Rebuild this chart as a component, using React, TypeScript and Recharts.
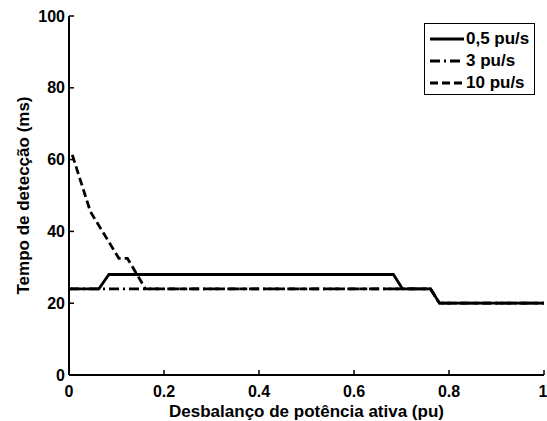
import React from 'react';
import { LineChart, Line, XAxis, YAxis, Legend, Label } from 'recharts';

const xTicks = [0, 0.2, 0.4, 0.6, 0.8, 1];
const yTicks = [0, 20, 40, 60, 80, 100];

const seriesNames = ['0,5 pu/s', '3 pu/s', '10 pu/s'];
const seriesDash = ['', '10 4 2 4', '8 4'];

const x05 = [0, 0.063, 0.084, 0.683, 0.702, 0.761, 0.78, 1];
const y05 = [24, 24, 28, 28, 24, 24, 20, 20];
const x3 = [0, 0.761, 0.78, 1];
const y3 = [24, 24, 20, 20];
const x10 = [0.007, 0.045, 0.105, 0.123, 0.161, 0.761, 0.78, 1];
const y10 = [61.3, 45.5, 32.5, 32.5, 24, 24, 20, 20];

const toPoints = (xs: number[], ys: number[]) => xs.map((x, i) => ({ x, y: ys[i] }));
const data05 = toPoints(x05, y05);
const data3 = toPoints(x3, y3);
const data10 = toPoints(x10, y10);

const FONT = '"Liberation Sans", Arial, Helvetica, sans-serif';
const tickStyle = { fill: '#000', fontSize: 16, fontWeight: 'bold', fontFamily: FONT } as any;

const fmtX = (v: number) => (v === 0 ? '0' : v === 1 ? '1' : String(v));

const LegendBox = () => (
  <div
    style={{
      boxSizing: 'border-box',
      border: '1px solid #000',
      background: '#fff',
      padding: '4px 0 0 5px',
      fontFamily: FONT,
      fontWeight: 'bold',
      fontSize: 17,
      color: '#000',
      lineHeight: '22px',
      width: 111,
      height: 72,
    }}
  >
    {seriesNames.map((name, i) => (
      <div key={name} style={{ display: 'flex', alignItems: 'center', height: 22 }}>
        <svg width={34} height={10} style={{ marginRight: 2, flex: 'none' }}>
          <line x1={0} y1={5} x2={34} y2={5} stroke="#000" strokeWidth={2.8} strokeDasharray={seriesDash[i] || undefined} />
        </svg>
        <span style={{ whiteSpace: 'nowrap' }}>{name}</span>
      </div>
    ))}
  </div>
);

const YLabel = (props: any) => {
  const vb = props.viewBox || {};
  const cx = vb.x + 23.5;
  const cy = vb.y + vb.height / 2;
  return (
    <text
      x={cx}
      y={cy}
      transform={`rotate(-90, ${cx}, ${cy})`}
      textAnchor="middle"
      dominantBaseline="central"
      fontFamily={FONT}
      fontWeight="bold"
      fontSize={17}
      fill="#000"
    >
      Tempo de detecção (ms)
    </text>
  );
};

export default function App() {
  return (
    <div style={{ position: 'absolute', left: 0, top: 0, width: 547, height: 421, background: '#fff' }}>
      <LineChart width={547} height={421} margin={{ top: 16, right: 3, bottom: 0, left: 0 }}>
        <XAxis
          dataKey="x"
          type="number"
          domain={[0, 1]}
          ticks={xTicks}
          tickFormatter={fmtX}
          allowDataOverflow
          height={46}
          tickSize={-5}
          tickMargin={16}
          tick={tickStyle}
          axisLine={{ stroke: '#000', strokeWidth: 2 }}
          tickLine={{ stroke: '#000', strokeWidth: 1.5 }}
        >
          <Label
            value="Desbalanço de potência ativa (pu)"
            position="insideBottom"
            offset={4}
            style={{ fontFamily: FONT, fontWeight: 'bold', fontSize: 17, fill: '#000' }}
          />
        </XAxis>
        <XAxis
          xAxisId="top"
          orientation="top"
          dataKey="x"
          type="number"
          domain={[0, 1]}
          ticks={xTicks}
          allowDataOverflow
          height={0}
          tickSize={-5}
          tick={false}
          axisLine={{ stroke: '#000', strokeWidth: 2 }}
          tickLine={{ stroke: '#000', strokeWidth: 1.5 }}
        />
        <YAxis
          type="number"
          domain={[0, 100]}
          ticks={yTicks}
          allowDataOverflow
          width={69}
          tickSize={-5}
          tickMargin={9}
          tick={tickStyle}
          axisLine={{ stroke: '#000', strokeWidth: 2 }}
          tickLine={{ stroke: '#000', strokeWidth: 1.5 }}
          label={<YLabel />}
        />
        <YAxis
          yAxisId="right"
          orientation="right"
          type="number"
          domain={[0, 100]}
          ticks={yTicks}
          allowDataOverflow
          width={0}
          tickSize={-5}
          tick={false}
          axisLine={{ stroke: '#000', strokeWidth: 2 }}
          tickLine={{ stroke: '#000', strokeWidth: 1.5 }}
        />
        <Line data={data3} dataKey="y" name={seriesNames[1]} stroke="#000" strokeWidth={2.8} strokeDasharray={seriesDash[1]} dot={false} isAnimationActive={false} />
        <Line data={data05} dataKey="y" name={seriesNames[0]} stroke="#000" strokeWidth={2.8} dot={false} isAnimationActive={false} />
        <Line data={data10} dataKey="y" name={seriesNames[2]} stroke="#000" strokeWidth={2.8} strokeDasharray={seriesDash[2]} dot={false} isAnimationActive={false} />
        <Legend
          layout="horizontal"
          align="center"
          verticalAlign="middle"
          content={<LegendBox />}
          wrapperStyle={{ position: 'absolute', left: 424, top: 23, width: 'auto', height: 'auto' }}
        />
      </LineChart>
    </div>
  );
}
